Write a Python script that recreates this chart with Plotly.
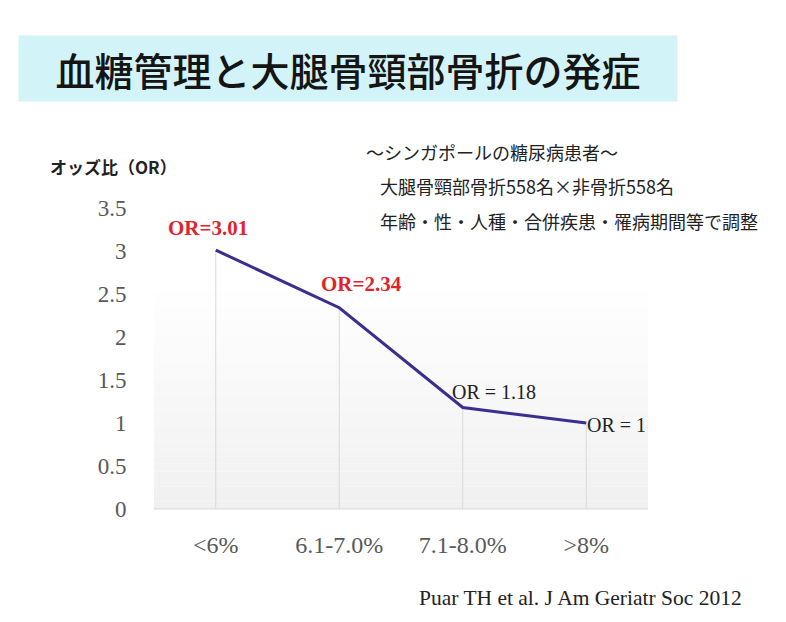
import plotly.graph_objects as go

categories = ["<6%", "6.1-7.0%", "7.1-8.0%", ">8%"]
odds_ratio = [3.01, 2.34, 1.18, 1.0]
point_labels = ["OR=3.01", "OR=2.34", "OR = 1.18", "OR = 1"]
y_ticks = [0, 0.5, 1, 1.5, 2, 2.5, 3, 3.5]

title_text = "血糖管理と大腿骨頸部骨折の発症"
y_title = "オッズ比（OR）"
note_lines = ["～シンガポールの糖尿病患者～",
              "大腿骨頸部骨折558名×非骨折558名",
              "年齢・性・人種・合併疾患・罹病期間等で調整"]
citation = "Puar TH et al. J Am Geriatr Soc 2012"

OFF = 8  # page offset of the figure
W, H = 786 - OFF, 622 - OFF
L, R, T, B = 154, 648, 208, 509

def px(x):
    return (x - L) / (R - L)

def py(y):
    return (B - y) / (B - T)

fig = go.Figure()

# drop lines
dx, dy = [], []
for c, v in zip(categories, odds_ratio):
    dx += [c, c, None]
    dy += [v, 0, None]
fig.add_trace(go.Scatter(x=dx, y=dy, mode="lines",
                         line=dict(color="#d9d9d9", width=1),
                         hoverinfo="skip", showlegend=False))

fig.add_trace(go.Scatter(x=categories, y=odds_ratio, mode="lines",
                         line=dict(color="#3a2e8e", width=3),
                         showlegend=False))

shapes = []
n = 30
top = 0.75
for i in range(n):
    y0 = top * i / n
    y1 = top * (i + 1) / n
    frac = 1 - (i + 0.5) / n
    g = int(round(255 - 15 * frac))
    shapes.append(dict(type="rect", xref="paper", yref="paper",
                       x0=0, x1=1, y0=y0, y1=y1,
                       fillcolor=f"rgb({g},{g},{g})", line=dict(width=0),
                       layer="below"))
shapes.append(dict(type="line", xref="paper", yref="paper", x0=0, x1=1,
                   y0=0, y1=0, line=dict(color="#d9d9d9", width=1), layer="below"))

annotations = []
annotations.append(dict(text=title_text, xref="paper", yref="paper",
                        x=px(348), y=py(68.5), xanchor="center", yanchor="middle",
                        showarrow=False, bgcolor="#d2f4f8", width=656, height=63,
                        font=dict(family="Noto Sans CJK JP", size=39, weight=500,
                                  color="#151515")))
annotations.append(dict(text=y_title, xref="paper", yref="paper",
                        x=px(48), y=py(166), xanchor="left", yanchor="middle",
                        showarrow=False,
                        font=dict(family="Noto Sans CJK JP", size=17, weight=600,
                                  color="#222222")))
note_pos = [(364, 152), (378, 186), (378, 221)]
for t, (xx, yy) in zip(note_lines, note_pos):
    annotations.append(dict(text=t, xref="paper", yref="paper",
                            x=px(xx), y=py(yy), xanchor="left", yanchor="middle",
                            showarrow=False,
                            font=dict(family="Noto Sans CJK JP", size=18, color="#222222")))

label_style = [
    dict(color="#e0242c", bold=True, xs=-8, ys=22, anchor="center", size=21),
    dict(color="#e0242c", bold=True, xs=22, ys=24, anchor="center", size=21),
    dict(color="#222222", bold=False, xs=-13, ys=16, anchor="left", size=20),
    dict(color="#222222", bold=False, xs=-1, ys=-2, anchor="left", size=20),
]
for c, v, lab, st in zip(categories, odds_ratio, point_labels, label_style):
    txt = f"<b>{lab}</b>" if st["bold"] else lab
    annotations.append(dict(text=txt, x=c, y=v, xref="x", yref="y",
                            xanchor=st["anchor"], yanchor="middle",
                            xshift=st["xs"], yshift=st["ys"], showarrow=False,
                            font=dict(family="Liberation Serif", size=st["size"],
                                      color=st["color"])))

annotations.append(dict(text=citation, xref="paper", yref="paper",
                        x=px(417), y=py(598), xanchor="left", yanchor="middle",
                        showarrow=False,
                        font=dict(family="Liberation Serif", size=21.5, color="#222222")))

fig.update_layout(
    width=W, height=H,
    margin=dict(l=L - OFF, r=W - (R - OFF), t=T - OFF, b=H - (B - OFF)),
    paper_bgcolor="white", plot_bgcolor="white",
    shapes=shapes, annotations=annotations,
    xaxis=dict(type="category", categoryorder="array", categoryarray=categories,
               showgrid=False, showline=False, zeroline=False,
               ticks="outside", ticklen=14, tickcolor="rgba(0,0,0,0)",
               tickfont=dict(family="Liberation Serif", size=24, color="#595959"),
               range=[-0.5, len(categories) - 0.5]),
    yaxis=dict(range=[0, 3.5], tickvals=y_ticks, showgrid=False, showline=False,
               zeroline=False, ticks="outside", ticklen=22, tickcolor="rgba(0,0,0,0)",
               tickfont=dict(family="Liberation Serif", size=23, color="#595959")),
)

fig.write_html("out.html")
